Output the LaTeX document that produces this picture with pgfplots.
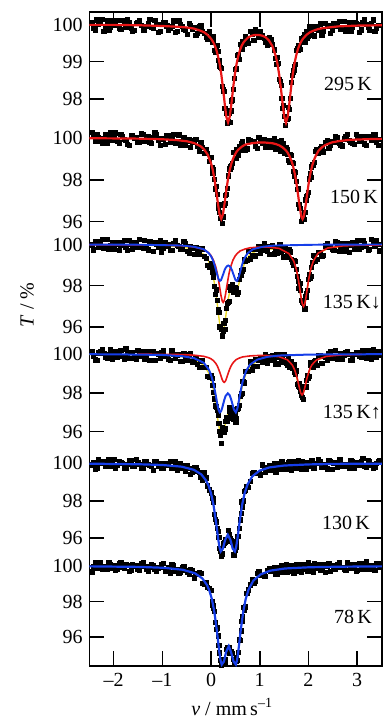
\documentclass[border=0pt]{standalone}
\usepackage{fontspec}
\setmainfont{Liberation Serif}
\usepackage{pgfplots}
\usepackage{pgfplotstable}
\pgfplotsset{compat=1.18}
\definecolor{fred}{RGB}{232,22,22}
\definecolor{fblue}{RGB}{22,62,232}
\definecolor{fyel}{RGB}{232,214,40}

\pgfplotstableread{
v T1 T2 T3 T4 T5 T6
-2.45 100.06 100.29 99.99 100.16 99.92 99.68
-2.38 99.86 99.87 100.17 99.71 99.71 100.19
-2.31 100.01 100.05 99.87 100.07 100.19 100.07
-2.24 100.15 99.75 100.26 100.22 100.07 99.83
-2.17 99.94 100.17 99.93 99.86 99.83 100.01
-2.10 99.85 100.01 99.77 99.97 100.22 100.22
-2.03 100.10 99.89 100.13 99.76 99.95 99.89
-1.96 99.99 100.25 100.01 100.12 99.77 99.75
-1.89 99.89 99.77 99.74 100.03 100.08 100.14
-1.82 100.12 100.10 100.10 99.88 100.02 99.93
-1.75 99.94 99.91 99.89 100.27 99.72 100.08
-1.68 100.07 99.67 100.19 99.79 100.14 99.69
-1.61 99.82 100.12 99.79 100.08 99.84 100.11
-1.54 100.03 100.03 100.03 99.72 100.23 100.02
-1.47 100.11 99.82 100.24 99.99 99.95 99.77
-1.40 99.86 100.20 99.81 100.14 99.77 100.21
-1.33 99.95 99.93 99.93 99.89 100.09 99.82
-1.26 100.15 99.78 100.14 99.68 99.88 99.96
-1.19 99.90 100.04 99.68 100.15 99.63 100.04
-1.12 100.01 100.16 100.04 100.03 100.13 99.70
-1.05 99.82 99.67 100.18 99.78 100.00 99.93
-0.98 100.07 99.94 99.82 100.17 99.75 100.17
-0.91 99.97 100.11 99.93 99.88 99.92 99.79
-0.84 99.90 99.80 99.71 99.69 100.11 99.62
-0.77 100.10 100.18 100.06 100.01 99.77 100.02
-0.70 99.81 99.84 99.96 99.94 99.63 99.82
-0.63 100.00 99.67 99.80 99.62 100.00 99.65
-0.56 99.88 100.01 100.16 100.02 99.76 100.01
-0.49 99.74 99.87 99.66 99.68 99.87 99.66
-0.42 99.99 99.56 99.93 100.04 99.43 99.82
-0.35 99.93 99.88 99.54 99.73 99.80 99.34
-0.28 99.77 99.60 99.74 99.46 99.61 99.61
-0.21 99.97 99.81 99.80 99.69 99.25 99.59
-0.14 99.77 99.27 99.44 99.34 99.50 98.99
-0.07 99.61 99.27 99.01 98.84 98.81 98.83
0.00 99.67 99.07 99.10 98.89 98.43 98.63
0.035 99.68 98.33 98.64 98.41 98.12 97.80
0.07 99.30 98.02 97.98 97.70 97.29 97.46
0.105 99.34 97.69 97.81 97.28 96.88 96.46
0.14 99.28 96.63 96.87 96.86 96.37 96.08
0.175 98.89 96.44 96.01 96.02 95.46 95.13
0.21 98.83 96.37 95.89 95.39 95.07 94.46
0.245 98.27 96.23 95.78 96.13 95.63 94.77
0.28 97.76 96.89 95.87 96.15 95.80 94.59
0.315 97.61 97.30 96.91 96.73 95.93 95.32
0.35 97.39 98.20 97.19 96.68 96.43 95.39
0.385 97.38 98.53 97.95 97.24 96.00 95.10
0.42 97.95 98.70 97.85 97.09 95.90 95.23
0.455 98.25 99.32 97.68 96.65 95.13 94.76
0.49 98.79 99.02 97.93 96.97 95.39 94.33
0.525 98.83 99.46 97.71 96.68 95.86 94.86
0.56 99.19 99.20 97.67 97.22 96.12 95.16
0.595 99.47 99.55 98.52 97.83 96.99 95.84
0.63 99.34 99.76 98.77 97.97 97.95 96.88
0.665 99.49 99.57 98.80 98.59 98.00 97.68
0.70 99.68 99.41 99.20 99.11 98.55 97.71
0.77 99.50 99.92 99.69 99.13 98.73 98.67
0.84 99.75 99.84 99.49 99.19 99.46 99.25
0.91 99.86 99.62 99.46 99.75 99.48 99.17
0.98 99.65 100.03 99.90 99.66 99.49 99.72
1.05 99.70 99.76 99.73 99.56 99.92 99.50
1.12 99.53 99.57 99.90 99.99 99.51 99.43
1.19 99.66 99.89 99.52 99.71 99.89 99.86
1.26 99.46 99.81 99.94 99.92 99.74 99.79
1.33 99.10 99.47 99.84 99.50 99.53 99.55
1.365 99.12 99.86 99.59 99.86 99.99 99.92
1.40 98.54 99.53 100.03 99.98 99.91 99.72
1.435 98.36 99.87 99.61 99.57 99.71 100.03
1.47 97.74 99.55 99.73 99.70 100.10 99.65
1.505 97.54 99.30 99.78 100.00 99.84 99.90
1.54 97.47 99.55 99.41 99.55 99.70 100.12
1.575 97.48 99.23 99.60 99.69 99.97 99.70
1.61 97.73 98.84 99.77 99.32 100.10 99.83
1.645 98.44 99.16 99.29 99.64 99.62 100.04
1.68 98.72 98.79 99.00 99.36 99.90 99.60
1.715 98.87 98.20 99.24 99.06 100.08 99.96
1.75 99.31 97.93 98.79 99.14 99.78 100.12
1.785 99.32 97.57 98.23 98.33 100.18 99.76
1.82 99.33 96.63 98.12 98.30 99.85 99.89
1.855 99.62 96.03 97.29 97.86 99.71 99.68
1.89 99.66 96.32 97.15 97.65 100.07 100.05
1.925 99.54 96.45 96.88 98.35 99.95 99.96
1.96 99.83 97.19 97.64 98.66 99.69 99.82
1.995 99.69 97.40 98.31 98.78 100.05 100.21
2.03 99.95 98.33 98.38 99.43 99.84 99.74
2.065 99.81 98.63 98.90 99.36 100.15 100.04
2.10 99.72 98.69 99.47 99.32 99.76 99.68
2.135 99.94 99.36 99.21 99.68 100.00 99.96
2.205 99.84 99.26 99.63 99.92 100.22 100.11
2.275 99.72 99.58 99.44 99.51 99.80 99.87
2.345 100.04 99.78 99.94 99.84 99.92 99.67
2.415 99.97 99.52 99.85 100.05 100.14 100.15
2.485 99.84 99.82 99.76 99.77 99.69 100.04
2.555 99.96 100.09 100.14 100.18 100.05 99.80
2.625 100.09 99.76 99.68 99.87 100.20 100.19
2.695 99.90 99.63 100.04 99.73 99.85 99.93
2.765 99.82 100.07 99.87 100.09 99.97 99.75
2.835 100.07 99.91 99.63 99.98 99.76 100.08
2.905 99.94 99.77 100.09 99.71 100.12 100.02
2.975 100.03 100.17 100.00 100.08 100.03 99.73
3.045 99.80 99.87 99.80 99.87 99.88 100.15
3.115 100.06 100.09 100.19 100.17 100.28 99.85
3.185 100.01 99.67 99.93 99.79 99.80 100.24
3.255 99.86 100.04 99.78 100.03 100.10 99.97
3.325 100.13 100.16 100.05 100.24 99.74 99.80
3.395 99.90 99.78 100.18 99.83 100.01 100.13
3.465 99.99 99.93 99.70 99.95 100.16 99.92
}\spectra

\pgfplotstableread{
v T1 T2 T3 T4 T5 T6
-2.415 99.90 100.08 99.75 99.89 100.06 100.00
-2.345 100.13 100.17 100.17 99.68 99.76 99.88
-2.275 100.03 99.84 100.08 100.13 100.03 100.18
-2.205 99.83 99.99 99.84 100.04 100.11 99.93
-2.135 100.10 99.75 100.26 99.80 99.96 99.81
-2.065 99.94 100.25 99.95 100.24 99.83 100.11
-1.995 99.99 100.04 99.80 99.97 100.21 100.02
-1.925 100.11 99.86 100.10 99.85 99.90 99.81
-1.855 99.87 100.19 99.98 100.18 100.06 100.19
-1.785 100.03 99.95 100.19 99.73 99.76 99.89
-1.715 100.14 99.70 99.71 100.00 99.96 100.06
-1.645 99.91 100.12 100.00 100.09 100.14 99.76
-1.575 99.84 100.00 100.12 99.81 99.84 99.99
-1.505 100.07 99.79 99.85 100.20 100.03 99.83
-1.435 99.99 100.21 99.91 99.90 99.73 100.15
-1.365 99.84 99.87 100.20 99.75 100.10 99.99
-1.295 100.04 100.08 99.75 100.13 99.97 99.71
-1.225 99.93 99.75 100.05 100.04 99.84 100.08
-1.155 100.11 100.25 100.13 99.67 100.13 99.84
-1.085 99.79 99.89 99.86 99.99 99.87 99.91
-1.015 100.01 100.00 99.64 100.08 99.73 100.08
-0.945 100.06 99.70 100.09 99.89 100.02 99.74
-0.875 99.86 100.11 99.99 99.73 99.93 99.95
-0.805 99.95 100.01 99.74 100.17 99.72 100.08
-0.735 99.80 99.76 100.18 99.80 100.08 99.73
-0.665 100.10 100.16 99.90 99.99 99.76 99.61
-0.595 99.96 99.84 99.76 99.61 99.91 99.91
-0.525 99.85 99.67 100.06 99.82 99.57 99.77
-0.455 100.04 99.94 99.59 99.99 99.75 99.52
-0.385 99.88 99.78 99.83 99.60 99.55 99.74
-0.315 99.71 99.94 99.87 99.78 99.80 99.52
-0.245 99.94 99.38 99.52 99.32 99.54 99.65
-0.175 99.83 99.56 99.80 99.65 99.11 99.03
-0.105 99.65 99.48 99.33 99.30 99.23 99.09
-0.035 99.81 98.89 98.88 98.79 98.59 98.75
0.0175 99.53 98.58 98.90 98.74 98.20 98.00
0.0525 99.58 98.51 98.43 98.03 97.93 97.66
0.0875 99.27 97.57 97.58 97.34 97.03 96.85
0.1225 99.44 97.30 97.30 97.09 96.55 96.53
0.1575 99.03 96.81 96.71 96.43 96.05 95.55
0.1925 98.85 96.15 95.97 95.83 95.33 94.73
0.2275 98.35 95.94 95.57 96.20 95.18 94.70
0.2625 98.21 96.77 96.19 95.98 95.75 94.63
0.2975 97.76 97.26 96.33 96.52 95.97 94.78
0.3325 97.36 97.60 97.14 96.54 95.96 95.45
0.3675 97.61 98.53 97.26 97.05 96.23 95.45
0.4025 97.68 98.63 97.77 96.91 95.86 95.09
0.4375 97.98 98.79 98.07 97.17 95.78 95.09
0.4725 98.55 99.32 97.67 96.83 95.10 94.52
0.5075 98.80 99.03 97.87 96.48 95.55 94.65
0.5425 99.17 99.42 97.60 97.18 96.13 94.73
0.5775 99.07 99.60 98.32 97.36 96.54 95.86
0.6125 99.39 99.40 98.53 97.95 97.34 96.36
0.6475 99.56 99.85 98.70 98.58 97.69 97.18
0.6825 99.47 99.60 99.30 98.52 98.53 97.53
0.735 99.58 99.49 99.25 99.12 98.78 98.48
0.805 99.82 99.91 99.31 99.60 99.03 98.95
0.875 99.58 99.85 99.78 99.38 99.54 99.06
0.945 99.77 99.51 99.76 99.38 99.49 99.60
1.015 99.82 99.85 99.56 99.84 99.39 99.48
1.085 99.63 99.94 100.04 99.76 99.81 99.45
1.155 99.44 99.75 99.70 99.55 99.77 99.78
1.225 99.59 99.58 99.91 99.89 99.64 99.74
1.295 99.32 100.00 99.55 99.71 100.02 99.95
1.3475 98.94 99.61 99.81 100.01 99.76 99.57
1.3825 98.96 99.79 99.62 99.47 99.95 99.83
1.4175 98.47 99.39 99.99 99.85 99.68 99.94
1.4525 98.01 99.58 99.78 99.92 100.11 99.72
1.4875 97.83 99.73 99.41 99.57 99.82 99.78
1.5225 97.30 99.29 99.82 99.69 99.93 100.04
1.5575 97.46 99.44 99.51 99.41 99.68 99.67
1.5925 97.78 98.95 99.54 99.87 100.04 99.93
1.6275 98.01 99.23 99.65 99.57 99.97 100.01
1.6625 98.63 98.86 99.13 99.28 99.77 99.79
1.6975 98.78 98.41 99.24 99.45 100.13 99.62
1.7325 98.94 98.37 99.20 98.98 99.88 100.00
1.7675 99.36 97.56 98.47 98.44 99.76 99.93
1.8025 99.45 96.82 97.89 98.51 100.01 99.74
1.8375 99.34 96.63 97.77 98.08 99.92 100.12
1.8725 99.62 96.25 97.21 97.76 100.10 99.90
1.9075 99.74 96.13 96.87 98.32 99.70 99.80
1.9425 99.68 97.05 97.47 98.31 99.95 100.08
1.9775 99.63 97.28 97.77 98.89 100.06 99.71
2.0125 99.94 98.05 98.57 98.85 99.83 99.94
2.0475 99.75 98.14 98.45 99.59 99.89 100.02
2.0825 99.89 98.75 99.14 99.39 100.14 99.80
2.1175 99.70 98.83 99.43 99.61 99.77 100.13
2.17 99.87 99.48 99.30 99.41 100.02 99.88
2.24 100.02 99.53 99.63 99.93 100.10 99.76
2.31 99.82 99.34 99.48 99.90 99.88 100.09
2.38 99.97 99.88 100.06 99.71 99.71 100.02
2.45 99.76 99.67 99.90 100.15 100.09 99.72
2.52 100.04 99.81 99.74 99.87 100.01 100.00
2.59 99.96 100.05 100.09 99.74 99.81 100.08
2.66 99.88 99.68 99.88 100.06 100.19 99.93
2.73 100.09 99.97 99.66 99.94 99.97 99.81
2.80 99.92 100.17 100.08 100.16 99.87 100.19
2.87 99.83 99.80 99.97 99.68 100.15 99.89
2.94 100.05 99.69 99.76 99.99 99.77 100.07
3.01 100.00 100.08 100.19 100.11 100.00 99.77
3.08 99.86 99.97 99.86 99.84 100.08 99.97
3.15 100.13 99.73 100.08 99.91 99.86 100.15
3.22 99.92 100.07 99.75 100.21 100.18 99.85
3.29 100.04 99.89 100.26 99.76 99.93 100.05
3.36 99.83 100.20 99.91 100.07 99.81 99.76
3.43 99.99 99.66 100.03 100.16 100.13 100.13
}\spectrb

\pgfplotstableread{
v T
-2.5 99.99
-2.0 99.99
-1.5 99.98
-1.0 99.96
-0.7 99.94
-0.5 99.92
-0.35 99.89
-0.21 99.83
-0.14 99.79
-0.07 99.72
0.0 99.62
0.035 99.55
0.07 99.46
0.105 99.34
0.14 99.17
0.175 98.96
0.21 98.67
0.245 98.31
0.28 97.89
0.315 97.52
0.35 97.37
0.385 97.52
0.42 97.88
0.455 98.30
0.49 98.66
0.525 98.94
0.56 99.15
0.595 99.31
0.63 99.43
0.665 99.51
0.70 99.57
0.77 99.66
0.84 99.70
0.91 99.72
0.98 99.72
1.05 99.70
1.12 99.66
1.19 99.57
1.26 99.42
1.33 99.15
1.365 98.94
1.40 98.65
1.435 98.29
1.47 97.88
1.505 97.52
1.54 97.36
1.575 97.52
1.61 97.89
1.645 98.31
1.68 98.67
1.715 98.96
1.75 99.17
1.785 99.34
1.82 99.46
1.855 99.55
1.89 99.62
1.96 99.72
2.03 99.79
2.10 99.83
2.205 99.88
2.345 99.91
2.485 99.93
2.625 99.95
3.0 99.97
3.55 99.98
}\fitA

\pgfplotstableread{
v T
-2.5 99.99
-2.0 99.98
-1.5 99.97
-1.0 99.94
-0.7 99.90
-0.49 99.84
-0.35 99.76
-0.21 99.60
-0.14 99.45
-0.07 99.21
0.0 98.80
0.035 98.48
0.07 98.05
0.105 97.51
0.14 96.90
0.175 96.35
0.21 96.13
0.245 96.35
0.28 96.89
0.315 97.51
0.35 98.05
0.385 98.47
0.42 98.79
0.455 99.02
0.49 99.20
0.525 99.34
0.56 99.44
0.63 99.58
0.70 99.68
0.84 99.75
0.98 99.79
1.12 99.78
1.26 99.75
1.33 99.71
1.40 99.65
1.47 99.55
1.54 99.40
1.575 99.29
1.61 99.14
1.645 98.95
1.68 98.70
1.715 98.35
1.75 97.90
1.785 97.33
1.82 96.72
1.855 96.24
1.88 96.12
1.905 96.24
1.94 96.72
1.975 97.33
2.01 97.90
2.045 98.35
2.08 98.70
2.115 98.95
2.15 99.14
2.205 99.38
2.275 99.55
2.345 99.66
2.415 99.73
2.485 99.79
2.625 99.85
2.835 99.91
3.045 99.93
3.3 99.95
3.55 99.96
}\fitB

\pgfplotstableread{
v T
-2.5 99.99
-1.5 99.98
-1.0 99.97
-0.6 99.94
-0.35 99.88
-0.15 99.76
-0.05 99.60
0.0 99.46
0.05 99.24
0.1 98.89
0.13 98.59
0.155 98.26
0.18 97.90
0.205 97.53
0.23 97.26
0.25 97.19
0.27 97.26
0.295 97.53
0.32 97.90
0.345 98.26
0.37 98.59
0.4 98.89
0.45 99.24
0.5 99.46
0.55 99.59
0.6 99.69
0.7 99.78
0.8 99.84
0.95 99.87
1.15 99.88
1.4 99.81
1.6 99.56
1.7 99.19
1.75 98.81
1.775 98.54
1.8 98.21
1.825 97.83
1.85 97.43
1.875 97.11
1.9 96.99
1.925 97.11
1.95 97.43
1.975 97.83
2.0 98.22
2.025 98.54
2.05 98.82
2.1 99.19
2.2 99.58
2.4 99.83
2.7 99.93
3.1 99.97
3.55 99.98
}\redC

\pgfplotstableread{
v T
-2.5 99.99
-1.5 99.99
-1.0 99.97
-0.6 99.95
-0.35 99.89
-0.15 99.77
-0.05 99.59
0.0 99.43
0.03 99.29
0.055 99.14
0.08 98.95
0.105 98.73
0.13 98.51
0.155 98.32
0.18 98.23
0.205 98.27
0.23 98.42
0.255 98.59
0.28 98.76
0.305 98.88
0.33 98.95
0.355 98.98
0.38 98.95
0.405 98.88
0.43 98.76
0.455 98.59
0.48 98.42
0.505 98.27
0.53 98.23
0.555 98.32
0.58 98.51
0.605 98.73
0.63 98.95
0.655 99.14
0.68 99.29
0.71 99.43
0.76 99.59
0.86 99.77
1.06 99.89
1.31 99.95
1.71 99.97
2.2 99.99
3.55 100.0
}\blueC

\pgfplotstableread{
v T
-2.5 99.99
-1.5 99.97
-1.0 99.94
-0.6 99.88
-0.35 99.78
-0.15 99.52
-0.05 99.20
0.0 98.89
0.05 98.41
0.1 97.67
0.13 97.09
0.155 96.58
0.18 96.13
0.205 95.81
0.23 95.68
0.25 95.74
0.28 96.11
0.305 96.55
0.33 97.00
0.355 97.38
0.38 97.65
0.405 97.81
0.43 97.88
0.455 97.86
0.48 97.80
0.505 97.75
0.53 97.78
0.555 97.93
0.58 98.16
0.63 98.68
0.7 99.17
0.8 99.52
0.95 99.71
1.15 99.79
1.4 99.76
1.6 99.53
1.7 99.16
1.75 98.79
1.8 98.19
1.85 97.41
1.875 97.08
1.9 96.97
1.925 97.08
1.95 97.41
2.0 98.20
2.05 98.80
2.1 99.17
2.2 99.56
2.4 99.81
2.7 99.92
3.1 99.96
3.55 99.97
}\totC

\pgfplotstableread{
v T
-1.5 99.99
-1.0 99.98
-0.6 99.97
-0.35 99.94
-0.15 99.88
-0.05 99.81
0.0 99.75
0.05 99.66
0.1 99.51
0.13 99.38
0.155 99.23
0.18 99.06
0.205 98.87
0.23 98.68
0.25 98.58
0.27 98.54
0.29 98.58
0.31 98.68
0.335 98.87
0.36 99.06
0.385 99.23
0.41 99.37
0.44 99.50
0.47 99.60
0.51 99.70
0.57 99.78
0.65 99.85
0.8 99.90
0.95 99.92
1.15 99.92
1.4 99.86
1.57 99.70
1.67 99.43
1.72 99.17
1.77 98.75
1.795 98.48
1.82 98.20
1.845 97.98
1.87 97.89
1.895 97.98
1.92 98.20
1.945 98.48
1.97 98.75
2.02 99.17
2.07 99.44
2.17 99.70
2.37 99.88
2.67 99.95
3.1 99.98
}\redD

\pgfplotstableread{
v T
-2.5 99.99
-1.5 99.97
-1.0 99.95
-0.6 99.89
-0.35 99.79
-0.15 99.55
-0.05 99.22
0.0 98.93
0.05 98.48
0.1 97.84
0.13 97.41
0.155 97.13
0.18 96.99
0.205 97.04
0.23 97.22
0.27 97.61
0.3 97.84
0.345 97.97
0.38 97.89
0.41 97.69
0.44 97.42
0.47 97.14
0.51 96.99
0.54 97.18
0.57 97.55
0.6 97.98
0.65 98.58
0.72 99.12
0.8 99.45
0.95 99.71
1.15 99.85
1.4 99.92
1.87 99.96
2.37 99.98
3.55 99.99
}\blueD

\pgfplotstableread{
v T
-2.5 99.98
-1.5 99.96
-1.0 99.93
-0.6 99.86
-0.35 99.73
-0.15 99.43
-0.05 99.04
0.0 98.68
0.05 98.14
0.1 97.34
0.13 96.79
0.155 96.37
0.18 96.06
0.205 95.91
0.23 95.91
0.27 96.15
0.3 96.46
0.345 96.92
0.38 97.09
0.41 97.07
0.44 96.92
0.47 96.74
0.51 96.69
0.54 96.92
0.57 97.33
0.6 97.79
0.65 98.44
0.72 99.00
0.8 99.35
0.95 99.64
1.15 99.77
1.4 99.77
1.57 99.64
1.67 99.38
1.72 99.12
1.77 98.70
1.82 98.16
1.87 97.85
1.92 98.16
1.97 98.71
2.02 99.14
2.07 99.41
2.17 99.68
2.37 99.86
2.67 99.94
3.07 99.97
3.55 99.98
}\totD

\pgfplotstableread{
v T
-2.5 99.98
-1.5 99.95
-1.0 99.91
-0.6 99.82
-0.35 99.65
-0.2 99.41
-0.1 99.08
-0.05 98.81
0.0 98.40
0.05 97.80
0.1 96.93
0.15 95.92
0.175 95.52
0.2 95.30
0.245 95.45
0.29 95.91
0.345 96.19
0.4 95.91
0.445 95.45
0.49 95.30
0.515 95.52
0.54 95.92
0.59 96.93
0.64 97.80
0.69 98.40
0.75 98.87
0.85 99.31
1.0 99.61
1.2 99.78
1.5 99.88
2.0 99.94
2.6 99.97
3.55 99.98
}\blueE

\pgfplotstableread{
v T
-2.5 99.98
-1.48 99.95
-0.98 99.90
-0.58 99.79
-0.33 99.59
-0.18 99.31
-0.08 98.92
-0.03 98.59
0.02 98.12
0.07 97.40
0.12 96.38
0.17 95.19
0.195 94.71
0.22 94.46
0.265 94.63
0.31 95.17
0.365 95.50
0.41 95.17
0.465 94.63
0.51 94.46
0.535 94.71
0.56 95.19
0.61 96.38
0.66 97.40
0.71 98.12
0.77 98.67
0.87 99.18
1.02 99.53
1.22 99.74
1.52 99.86
2.02 99.93
2.62 99.96
3.55 99.98
}\blueF

\begin{document}
\fontsize{20bp}{23bp}\selectfont
\begin{tikzpicture}
\begin{axis}[
  x=48.7bp, y=1bp,
  xmin=-2.495, xmax=3.511, ymin=-666, ymax=-12,
  axis line style={line width=1.6bp, black},
  tick style={line width=1.6bp, black},
  tick align=inside, xtick pos=both, ytick pos=both,
  major tick length=15bp,
  xtick={-2,-1,0,1,2,3}, xticklabels={--2,--1,0,1,2,3},
  ytick={-637.2,-601.6,-566,-538.3,-500.8,-463.3,-431.6,-392.8,-354,-326.9,-285.7,-244.5,-221.6,-179.8,-138,-98.9,-61.7,-24.5},
  yticklabels={96,98,100,96,98,100,96,98,100,96,98,100,96,98,100,98,99,100},
  clip mode=individual,
  dat/.style={only marks, mark=square*, mark size=2.1bp, black},
]
% panel 1: 295 K
\addplot[dat] table[x=v, y expr={-(24.5+(100-\thisrow{T1})*37.2)}] {\spectra};
\addplot[dat] table[x=v, y expr={-(24.5+(100-\thisrow{T1})*37.2)}] {\spectrb};
\addplot[fred, line width=2.2bp] table[x=v, y expr={-(24.5+(100-\thisrow{T})*37.2)}] {\fitA};
% panel 2: 150 K
\addplot[dat] table[x=v, y expr={-(138+(100-\thisrow{T2})*20.9)}] {\spectra};
\addplot[dat] table[x=v, y expr={-(138+(100-\thisrow{T2})*20.9)}] {\spectrb};
\addplot[fred, line width=2.2bp] table[x=v, y expr={-(138+(100-\thisrow{T})*20.9)}] {\fitB};
% panel 3: 135 K down
\addplot[fyel, line width=1.4bp] table[x=v, y expr={-(244.5+(100-\thisrow{T})*20.6)}] {\totC};
\addplot[dat] table[x=v, y expr={-(244.5+(100-\thisrow{T3})*20.6)}] {\spectra};
\addplot[dat] table[x=v, y expr={-(244.5+(100-\thisrow{T3})*20.6)}] {\spectrb};
\addplot[fred, line width=1.6bp] table[x=v, y expr={-(244.5+(100-\thisrow{T})*20.6)}] {\redC};
\addplot[fblue, line width=1.9bp] table[x=v, y expr={-(244.5+(100-\thisrow{T})*20.6)}] {\blueC};
% panel 4: 135 K up
\addplot[fyel, line width=1.4bp] table[x=v, y expr={-(354+(100-\thisrow{T})*19.4)}] {\totD};
\addplot[dat] table[x=v, y expr={-(354+(100-\thisrow{T4})*19.4)}] {\spectra};
\addplot[dat] table[x=v, y expr={-(354+(100-\thisrow{T4})*19.4)}] {\spectrb};
\addplot[fred, line width=1.6bp] table[x=v, y expr={-(354+(100-\thisrow{T})*19.4)}] {\redD};
\addplot[fblue, line width=2bp] table[x=v, y expr={-(354+(100-\thisrow{T})*19.4)}] {\blueD};
% panel 5: 130 K
\addplot[dat] table[x=v, y expr={-(463.3+(100-\thisrow{T5})*18.75)}] {\spectra};
\addplot[dat] table[x=v, y expr={-(463.3+(100-\thisrow{T5})*18.75)}] {\spectrb};
\addplot[fblue, line width=2.2bp] table[x=v, y expr={-(463.3+(100-\thisrow{T})*18.75)}] {\blueE};
% panel 6: 78 K
\addplot[dat] table[x=v, y expr={-(566+(100-\thisrow{T6})*17.8)}] {\spectra};
\addplot[dat] table[x=v, y expr={-(566+(100-\thisrow{T6})*17.8)}] {\spectrb};
\addplot[fblue, line width=2.2bp] table[x=v, y expr={-(566+(100-\thisrow{T})*17.8)}] {\blueF};

\node[anchor=east, inner sep=0pt] at (axis cs:3.306,-84) {295\,K};
\node[anchor=east, inner sep=0pt] at (axis cs:3.429,-196.7) {150\,K};
\node[anchor=east, inner sep=0pt] at (axis cs:3.490,-301.7) {135\,K↓};
\node[anchor=east, inner sep=0pt] at (axis cs:3.490,-411.7) {135\,K↑};
\node[anchor=east, inner sep=0pt] at (axis cs:3.265,-523.3) {130\,K};
\node[anchor=east, inner sep=0pt] at (axis cs:3.306,-617.3) {78\,K};
\node[rotate=90] at (axis cs:-3.778,-305) {\textit{T} / \%};
\node[anchor=base, inner sep=0pt] at (axis cs:0.43,-715) {\textit{v} / mm\,s\textsuperscript{--1}};
\coordinate (bbl) at (axis cs:-4.3326,-718);
\coordinate (btr) at (axis cs:3.5318,0);
\end{axis}
\pgfresetboundingbox
\useasboundingbox (bbl) rectangle (btr);
\end{tikzpicture}
\end{document}
